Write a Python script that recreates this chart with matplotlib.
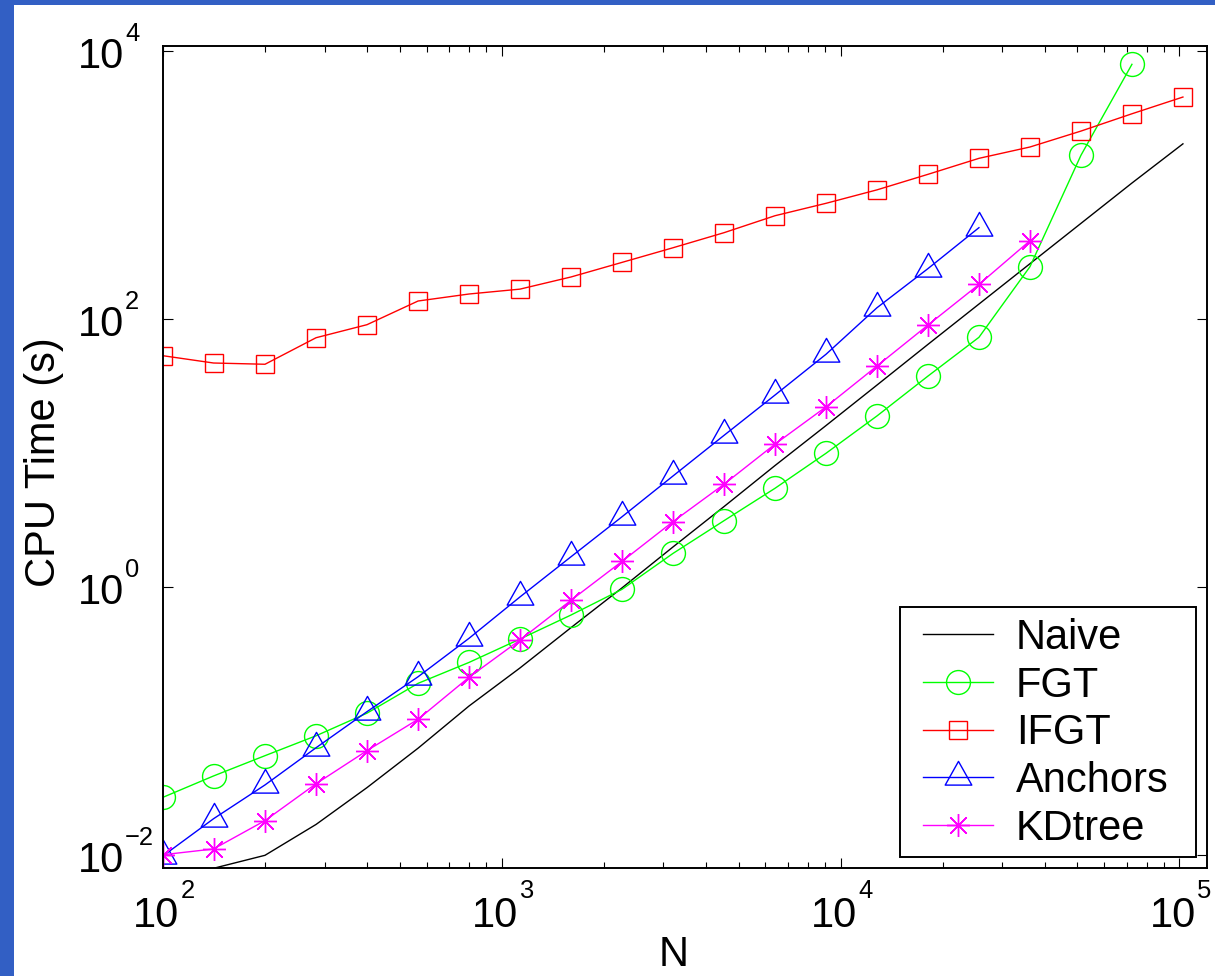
import math
import matplotlib
matplotlib.use("Agg")
import matplotlib.pyplot as plt
import matplotlib.transforms as mtransforms
from matplotlib.path import Path
from matplotlib.patches import Rectangle
from matplotlib.ticker import FixedLocator, LogLocator, NullFormatter, NullLocator

plt.rcParams["font.family"] = ["Liberation Sans", "DejaVu Sans"]

# ---- data -------------------------------------------------------------
n_points = [100, 141, 200, 283, 400, 566, 800, 1131, 1600, 2263, 3200,
            4525, 6400, 9051, 12800, 18102, 25600, 36204, 51200, 72408, 102400]

naive_time = [0.0060, 0.0080, 0.0100, 0.0170, 0.032, 0.063, 0.130, 0.25,
              0.50, 0.99, 2.0, 4.0, 8.1, 16.1, 32.3, 65, 130, 260, 520,
              1040, 2040]
fgt_time = [0.0271, 0.0391, 0.0554, 0.078, 0.115, 0.192, 0.275, 0.411,
            0.621, 0.966, 1.79, 3.14, 5.48, 10.0, 19.0, 37.7, 73.4, 247,
            1675, 8000]
ifgt_time = [53.5, 47.2, 46.2, 72.9, 91.2, 137, 154.5, 168, 207, 266, 342,
             443, 593, 734, 925, 1208, 1590, 1932, 2540, 3420, 4560]
anchors_time = [0.0099, 0.01875, 0.0335, 0.0635, 0.118, 0.215, 0.416,
                0.847, 1.69, 3.36, 6.77, 13.6, 27.2, 54.8, 122, 239, 483]
kdtree_time = [0.0101, 0.01115, 0.01815, 0.0342, 0.0604, 0.1035, 0.213,
               0.404, 0.80, 1.56, 3.09, 5.87, 11.7, 22.2, 44.8, 90.6, 182, 386]

x_tick_values = [1e2, 1e3, 1e4, 1e5]
y_tick_values = [1e-2, 1e0, 1e2, 1e4]

# ---- figure -----------------------------------------------------------
W, H = 1215, 976
DPI = 100
fig = plt.figure(figsize=(W / DPI, H / DPI), dpi=DPI)
fig.patch.set_facecolor("white")

band = "#325fc4"
fig.patches.append(Rectangle((0, 0), 14 / W, 1, transform=fig.transFigure,
                             facecolor=band, edgecolor="none", zorder=0))
fig.patches.append(Rectangle((0, 1 - 5 / H), 1, 5 / H, transform=fig.transFigure,
                             facecolor=band, edgecolor="none", zorder=0))

ax = fig.add_axes([163 / W, 1 - 868 / H, (1207 - 163) / W, (868 - 46) / H])
ax.set_xscale("log")
ax.set_yscale("log")
ax.set_xlim(100, 1.206e5)
ax.set_ylim(0.00804, 1.096e4)

# triangle whose reference point sits below the bbox centre
tri = Path([(0, 16.1), (-13.3, -7.6), (13.3, -7.6), (0, 16.1)],
           [Path.MOVETO, Path.LINETO, Path.LINETO, Path.CLOSEPOLY])

lw = 1.0
mew = 1.0
ax.plot(n_points, naive_time, color="black", lw=lw, label="Naive")
ax.plot(n_points[:len(fgt_time)], fgt_time, color="#00ff00", lw=lw,
        marker="o", ms=17.2, mfc="none", mew=mew, label="FGT")
ax.plot(n_points[:len(ifgt_time)], ifgt_time, color="#ff0000", lw=lw,
        marker="s", ms=13.2, mfc="none", mew=mew, label="IFGT")
ax.plot(n_points[:len(anchors_time)], anchors_time, color="#0000ff", lw=lw,
        marker=tri, ms=23.2, mfc="none", mew=mew, label="Anchors")
ax.plot(n_points[:len(kdtree_time)], kdtree_time, color="#ff00ff", lw=lw,
        marker=(8, 2, 0), ms=16.5, mfc="none", mew=mew, label="KDtree")

# ---- axes styling -----------------------------------------------------
for sp in ax.spines.values():
    sp.set_linewidth(1.4)
    sp.set_color("black")

ax.xaxis.set_major_locator(FixedLocator(x_tick_values))
ax.xaxis.set_minor_locator(LogLocator(base=10, subs=range(2, 10), numticks=20))
ax.yaxis.set_major_locator(FixedLocator(y_tick_values))
ax.yaxis.set_minor_locator(NullLocator())
ax.xaxis.set_major_formatter(NullFormatter())
ax.xaxis.set_minor_formatter(NullFormatter())
ax.yaxis.set_major_formatter(NullFormatter())
ax.tick_params(which="both", direction="in", top=True, right=True,
               color="black", width=0.8)
ax.tick_params(which="major", length=7.5)
ax.tick_params(which="minor", length=4.0)

BASE_FS = 30
EXP_FS = 18.4


def offset(dx_px, dy_px):
    return mtransforms.ScaledTranslation(dx_px / DPI, dy_px / DPI,
                                         fig.dpi_scale_trans)


def power_label(value):
    e = int(round(math.log10(value)))
    return str(e).replace("-", "\u2212")


# y tick labels: "10" right-aligned, exponent trailing to the right
ytr = ax.get_yaxis_transform()
for v in y_tick_values:
    ax.text(0, v, "10", fontsize=BASE_FS, ha="right", va="baseline",
            transform=ytr + offset(-39, -17), clip_on=False)
    ax.text(0, v, power_label(v), fontsize=EXP_FS, ha="left", va="baseline",
            transform=ytr + offset(-38, 10), clip_on=False)

# x tick labels: whole "10^k" centred under the tick
xtr = ax.get_xaxis_transform()
for v in x_tick_values:
    ax.text(v, 0, "10", fontsize=BASE_FS, ha="right", va="baseline",
            transform=xtr + offset(16.5, -58.7), clip_on=False)
    ax.text(v, 0, power_label(v), fontsize=EXP_FS, ha="left", va="baseline",
            transform=xtr + offset(17.5, -30.3), clip_on=False)

fig.text(674 / W, 1 - 966 / H, "N", fontsize=BASE_FS, ha="center",
         va="baseline")
fig.text(55 / W, 1 - 462 / H, "CPU Time (s)", fontsize=BASE_FS, rotation=90,
         rotation_mode="anchor", ha="center", va="baseline")

# ---- legend -----------------------------------------------------------
leg_left, leg_right, leg_top, leg_bottom = 900, 1196, 606.7, 856.7
frame = Rectangle((leg_left / W, 1 - leg_bottom / H),
                  (leg_right - leg_left) / W, (leg_bottom - leg_top) / H,
                  transform=fig.transFigure, facecolor="white",
                  edgecolor="black", lw=1.4, zorder=5, clip_on=False)
ax.add_patch(frame)
leg = ax.legend(loc="upper left", bbox_to_anchor=(923 / W, 1 - 618 / H),
                bbox_transform=fig.transFigure, frameon=False,
                fontsize=BASE_FS, borderpad=0, borderaxespad=0,
                handlelength=1.68, handletextpad=0.55, labelspacing=0.184)
leg.set_zorder(6)

fig.savefig("out.png", dpi=DPI, facecolor=fig.get_facecolor())
